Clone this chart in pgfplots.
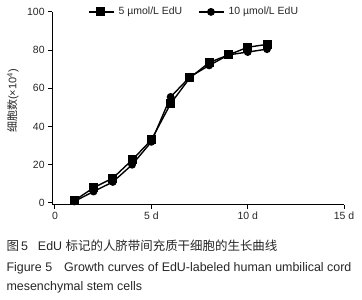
\documentclass[border=0pt]{standalone}
\usepackage{pgfplots}
\pgfplotsset{compat=1.18}
\usepackage{fontspec}
\setmainfont{Liberation Sans}
\newfontfamily\cjk{Noto Sans CJK SC}
\begin{document}
\begin{tikzpicture}[x=1bp,y=1bp]
\useasboundingbox (0,0) rectangle (362,300);
\begin{axis}[
  at={(52.1bp,95.1bp)}, anchor=south west,
  scale only axis, width=292bp, height=193bp,
  xmin=-0.15, xmax=15, ymin=-1, ymax=100,
  axis x line*=bottom, axis y line*=left,
  axis line style={line width=1pt, -},
  xtick={0,5,10,15}, xticklabels={0,5 d,10 d,15 d},
  ytick={0,20,40,60,80,100},
  tick style={line width=1pt, black},
  tick align=outside, major tick length=4bp,
  ticklabel style={font=\fontsize{10.5}{12}\selectfont, text=black!85},
  /pgf/number format/assume math mode=true,
  legend columns=2,
  legend style={at={(0.49,1.0)}, anchor=center, draw=none, fill=none,
    font=\fontsize{10.5}{12}\selectfont, text=black!85,
    /tikz/every even column/.append style={column sep=12bp},
    /tikz/every odd column/.append style={column sep=0bp},
    nodes={inner xsep=4bp}},
  legend image code/.code={
    \draw[mark repeat=2,mark phase=2] plot coordinates {(0bp,0bp) (12bp,0bp) (25bp,0bp)};},
]
\addplot[black, line width=1.4pt, mark=square*, mark size=3.8bp] coordinates {
(1,1.2) (2,8) (3,13) (4,22.5) (5,33) (6,52) (7,65.5) (8,73.5) (9,77.5) (10,81.5) (11,83)};
\addlegendentry{5 µmol/L EdU}
\addplot[black, line width=1.4pt, mark=*, mark size=3.2bp] coordinates {
(1,0.8) (2,6) (3,11) (4,20) (5,32) (6,55.5) (7,66) (8,72) (9,77.5) (10,79) (11,80.5)};
\addlegendentry{10 µmol/L EdU}
\end{axis}
\node[rotate=90, font=\fontsize{11}{12}\selectfont, text=black!85] at (13,199) {{\cjk 细胞数}(×10\textsuperscript{4})};
\node[anchor=west, font=\fontsize{12.5}{14}\selectfont, text=black!85] at (3,54) {{\cjk 图}\,5\hspace{10bp}EdU {\cjk 标记的人脐带间充质干细胞的生长曲线}};
\node[anchor=west, font=\fontsize{12.5}{14}\selectfont, text=black!85] at (3,32) {Figure 5\hspace{12bp}Growth curves of EdU-labeled human umbilical cord};
\node[anchor=west, font=\fontsize{12.5}{14}\selectfont, text=black!85] at (3,13) {mesenchymal stem cells};
\end{tikzpicture}
\end{document}
